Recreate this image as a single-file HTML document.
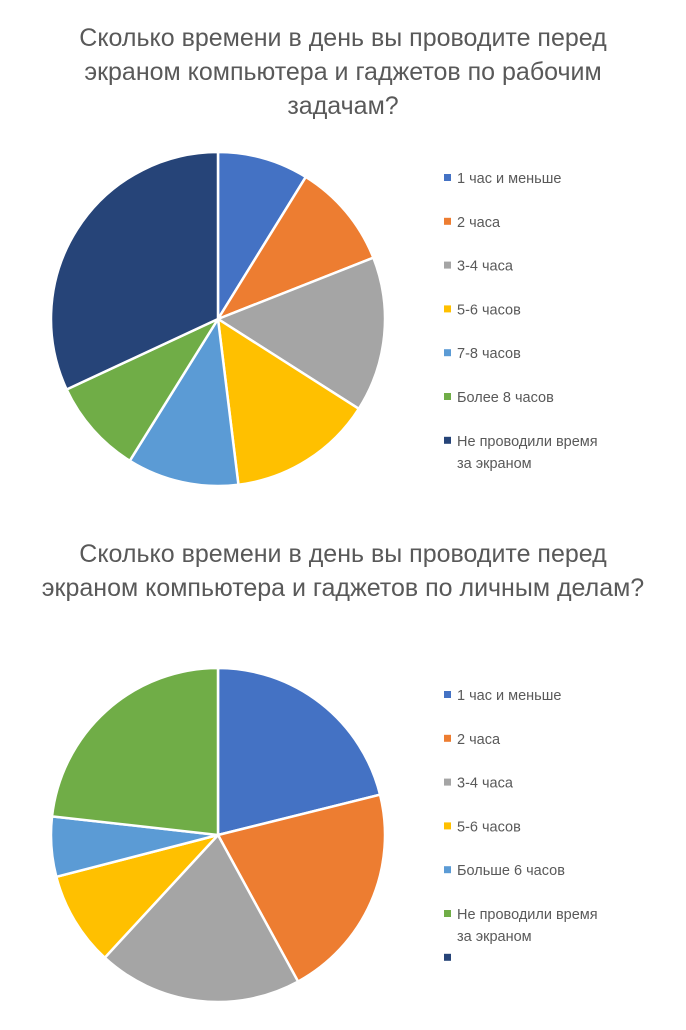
<!DOCTYPE html>
<html><head><meta charset="utf-8">
<style>
body{margin:0;background:#fff;width:686px;height:1025px;overflow:hidden;font-family:"Liberation Sans","DejaVu Sans",sans-serif;}
</style></head>
<body>
<svg id="svg" width="686" height="1025" xmlns="http://www.w3.org/2000/svg"></svg>
<script>
const cats1 = ["1 час и меньше","2 часа","3-4 часа","5-6 часов","7-8 часов","Более 8 часов","Не проводили время|за экраном"];
const vals1 = [8.8,10.2,15.0,14.0,10.8,9.2,31.9];
const cats2 = ["1 час и меньше","2 часа","3-4 часа","5-6 часов","Больше 6 часов","Не проводили время|за экраном",""];
const vals2 = [21.1,20.9,19.8,9.1,5.8,23.2,0];
const title1 = ["Сколько времени в день вы проводите перед","экраном компьютера и гаджетов по рабочим","задачам?"];
const title2 = ["Сколько времени в день вы проводите перед","экраном компьютера и гаджетов по личным делам?"];
const colors = ["#4472C4","#ED7D31","#A5A5A5","#FFC000","#5B9BD5","#70AD47","#264478"];
const svg = document.getElementById('svg');
const NS = "http://www.w3.org/2000/svg";
function mk(t, a){const e=document.createElementNS(NS,t);for(const k in a)e.setAttribute(k,a[k]);svg.appendChild(e);return e;}
function chart(id, title, titleY, cats, vals, cx, cy, r, legY){
  title.forEach((l,i)=>{
    const t=mk('text',{x:343,y:titleY+i*34,'text-anchor':'middle','font-size':'25','fill':'#595959'});
    t.textContent=l;
    
    
  });
  const total=vals.reduce((a,b)=>a+b,0);
  let a0=0;
  vals.forEach((v,i)=>{
    if(v<=0)return;
    const a1=a0+v/total*2*Math.PI;
    const x0=cx+r*Math.sin(a0),y0=cy-r*Math.cos(a0),x1=cx+r*Math.sin(a1),y1=cy-r*Math.cos(a1);
    const large=(a1-a0)>Math.PI?1:0;
    const p=mk('path',{d:`M${cx},${cy}L${x0},${y0}A${r},${r} 0 ${large} 1 ${x1},${y1}Z`,fill:colors[i],stroke:'#fff','stroke-width':'2.5'});
    
    
    a0=a1;
  });
  cats.forEach((c,i)=>{
    const y=legY+i*43.8;
    const s=mk('rect',{x:444,y:y-4,width:7,height:7,fill:colors[i]});
    
    
    c.split('|').forEach((l,j)=>{
      if(!l)return;
      const t=mk('text',{x:457,y:y+5+j*22,'font-size':'14.5','fill':'#595959'});
      t.textContent=l;
      
      
    });
  });
}
chart('chart1',title1,46,cats1,vals1,218,319,167,178);
chart('chart2',title2,562,cats2,vals2,218,835,167,695);
</script>
</body></html>
